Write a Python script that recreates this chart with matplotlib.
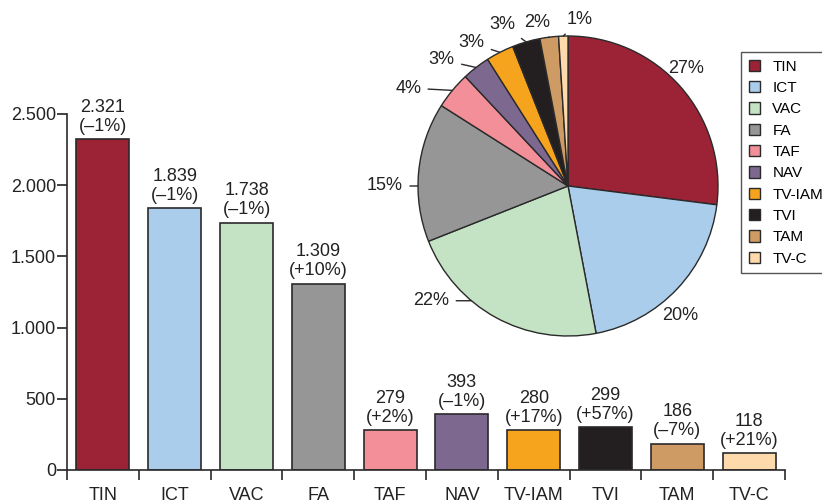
import numpy as np
import matplotlib
matplotlib.use("Agg")
import matplotlib.pyplot as plt
import matplotlib.patches as mpatches

plt.rcParams["font.family"] = ["Liberation Sans", "DejaVu Sans"]

categories = ["TIN", "ICT", "VAC", "FA", "TAF", "NAV", "TV-IAM", "TVI", "TAM", "TV-C"]
counts = [2321, 1839, 1738, 1309, 279, 393, 280, 299, 186, 118]
changes = ["–1%", "–1%", "–1%", "+10%", "+2%", "–1%", "+17%", "+57%", "–7%", "+21%"]
pie_share = [27, 20, 22, 15, 4, 3, 3, 3, 2, 1]
colors = ["#9b2335", "#abcdec", "#c4e2c4", "#969696", "#f28f98",
          "#7d688f", "#f6a31e", "#231f20", "#cd9b63", "#fdd9ab"]
y_ticks = [0, 500, 1000, 1500, 2000, 2500]

EDGE = "#2a2a2a"

fig = plt.figure(figsize=(8.22, 5.04), dpi=100)

# bar chart
ax = fig.add_axes([67 / 822, 34 / 504, 718 / 822, 356 / 504])
x = np.arange(len(categories))
ax.bar(x, counts, width=0.74, color=colors, edgecolor=EDGE, linewidth=1.2, zorder=2)
for xi, v, c in zip(x, counts, changes):
    ax.annotate(f"{v:,}".replace(",", ".") + f"\n({c})", xy=(xi, v), xytext=(0, 3),
                textcoords="offset points", ha="center", va="bottom", fontsize=13,
                color="#222", linespacing=1.15)
ax.set_xlim(-0.5, len(categories) - 0.5)
ax.set_ylim(0, 2500)
ax.set_yticks(y_ticks)
ax.set_yticklabels([f"{t:,}".replace(",", ".") for t in y_ticks])
ax.set_xticks(x)
ax.set_xticklabels(categories)
ax.set_xticks(np.arange(-0.5, len(categories)), minor=True)
ax.tick_params(axis="x", which="major", length=0, pad=12, labelsize=13, colors="#222")
ax.tick_params(axis="x", which="minor", length=7, width=1.2, direction="out", color=EDGE)
ax.tick_params(axis="y", length=7, width=1.2, pad=1, labelsize=13, colors="#222")
for s in ["top", "right"]:
    ax.spines[s].set_visible(False)
for s in ["left", "bottom"]:
    ax.spines[s].set_linewidth(1.2)
    ax.spines[s].set_color(EDGE)

# pie chart
pax = fig.add_axes([418 / 822, 168 / 504, 300 / 822, 300 / 504])
wedges, _ = pax.pie(pie_share, colors=colors, startangle=90, counterclock=False,
                    radius=1, wedgeprops=dict(edgecolor=EDGE, linewidth=1))
pax.set_xlim(-1, 1)
pax.set_ylim(-1, 1)
pax.set_aspect("equal")
pax.axis("off")

# label placement: (angle in degrees, distance in radii, leader line kind)
label_pos = [(45, 1.11, None), (-49, 1.14, None), (-140, 1.19, "h"), (180, 1.22, "h"),
             (148.5, 1.25, "r"), (135, 1.19, "r"), (124, 1.15, "r"),
             (112, 1.16, "r"), (100.7, 1.11, "r"), (86, 1.11, "r")]
for w, share, (ang, dist, kind) in zip(wedges, pie_share, label_pos):
    tx = dist * np.cos(np.radians(ang))
    ty = dist * np.sin(np.radians(ang))
    if kind is None:
        pax.text(tx, ty, f"{share}%", ha="center", va="center", fontsize=13, color="#222")
        continue
    if kind == "h":
        ex, ey = -np.sqrt(1 - ty ** 2), ty
    else:
        mid = np.radians((w.theta1 + w.theta2) / 2)
        ex, ey = np.cos(mid), np.sin(mid)
    pax.annotate(f"{share}%", xy=(ex, ey), xytext=(tx, ty), ha="center", va="center",
                 fontsize=13, color="#222", annotation_clip=False,
                 arrowprops=dict(arrowstyle="-", color=EDGE, lw=1, shrinkA=3, shrinkB=0))

handles = [mpatches.Patch(facecolor=c, edgecolor=EDGE, linewidth=1, label=n)
           for c, n in zip(colors, categories)]
leg = fig.legend(handles=handles, loc="upper left", bbox_to_anchor=(741 / 822, 1 - 52 / 504),
                 borderaxespad=0, fontsize=11, handlelength=0.75, handleheight=0.75,
                 handletextpad=0.8, labelspacing=0.48, fancybox=False, borderpad=0.5)
leg.get_frame().set_edgecolor(EDGE)
leg.get_frame().set_linewidth(1)

fig.savefig("out.png", dpi=100)
